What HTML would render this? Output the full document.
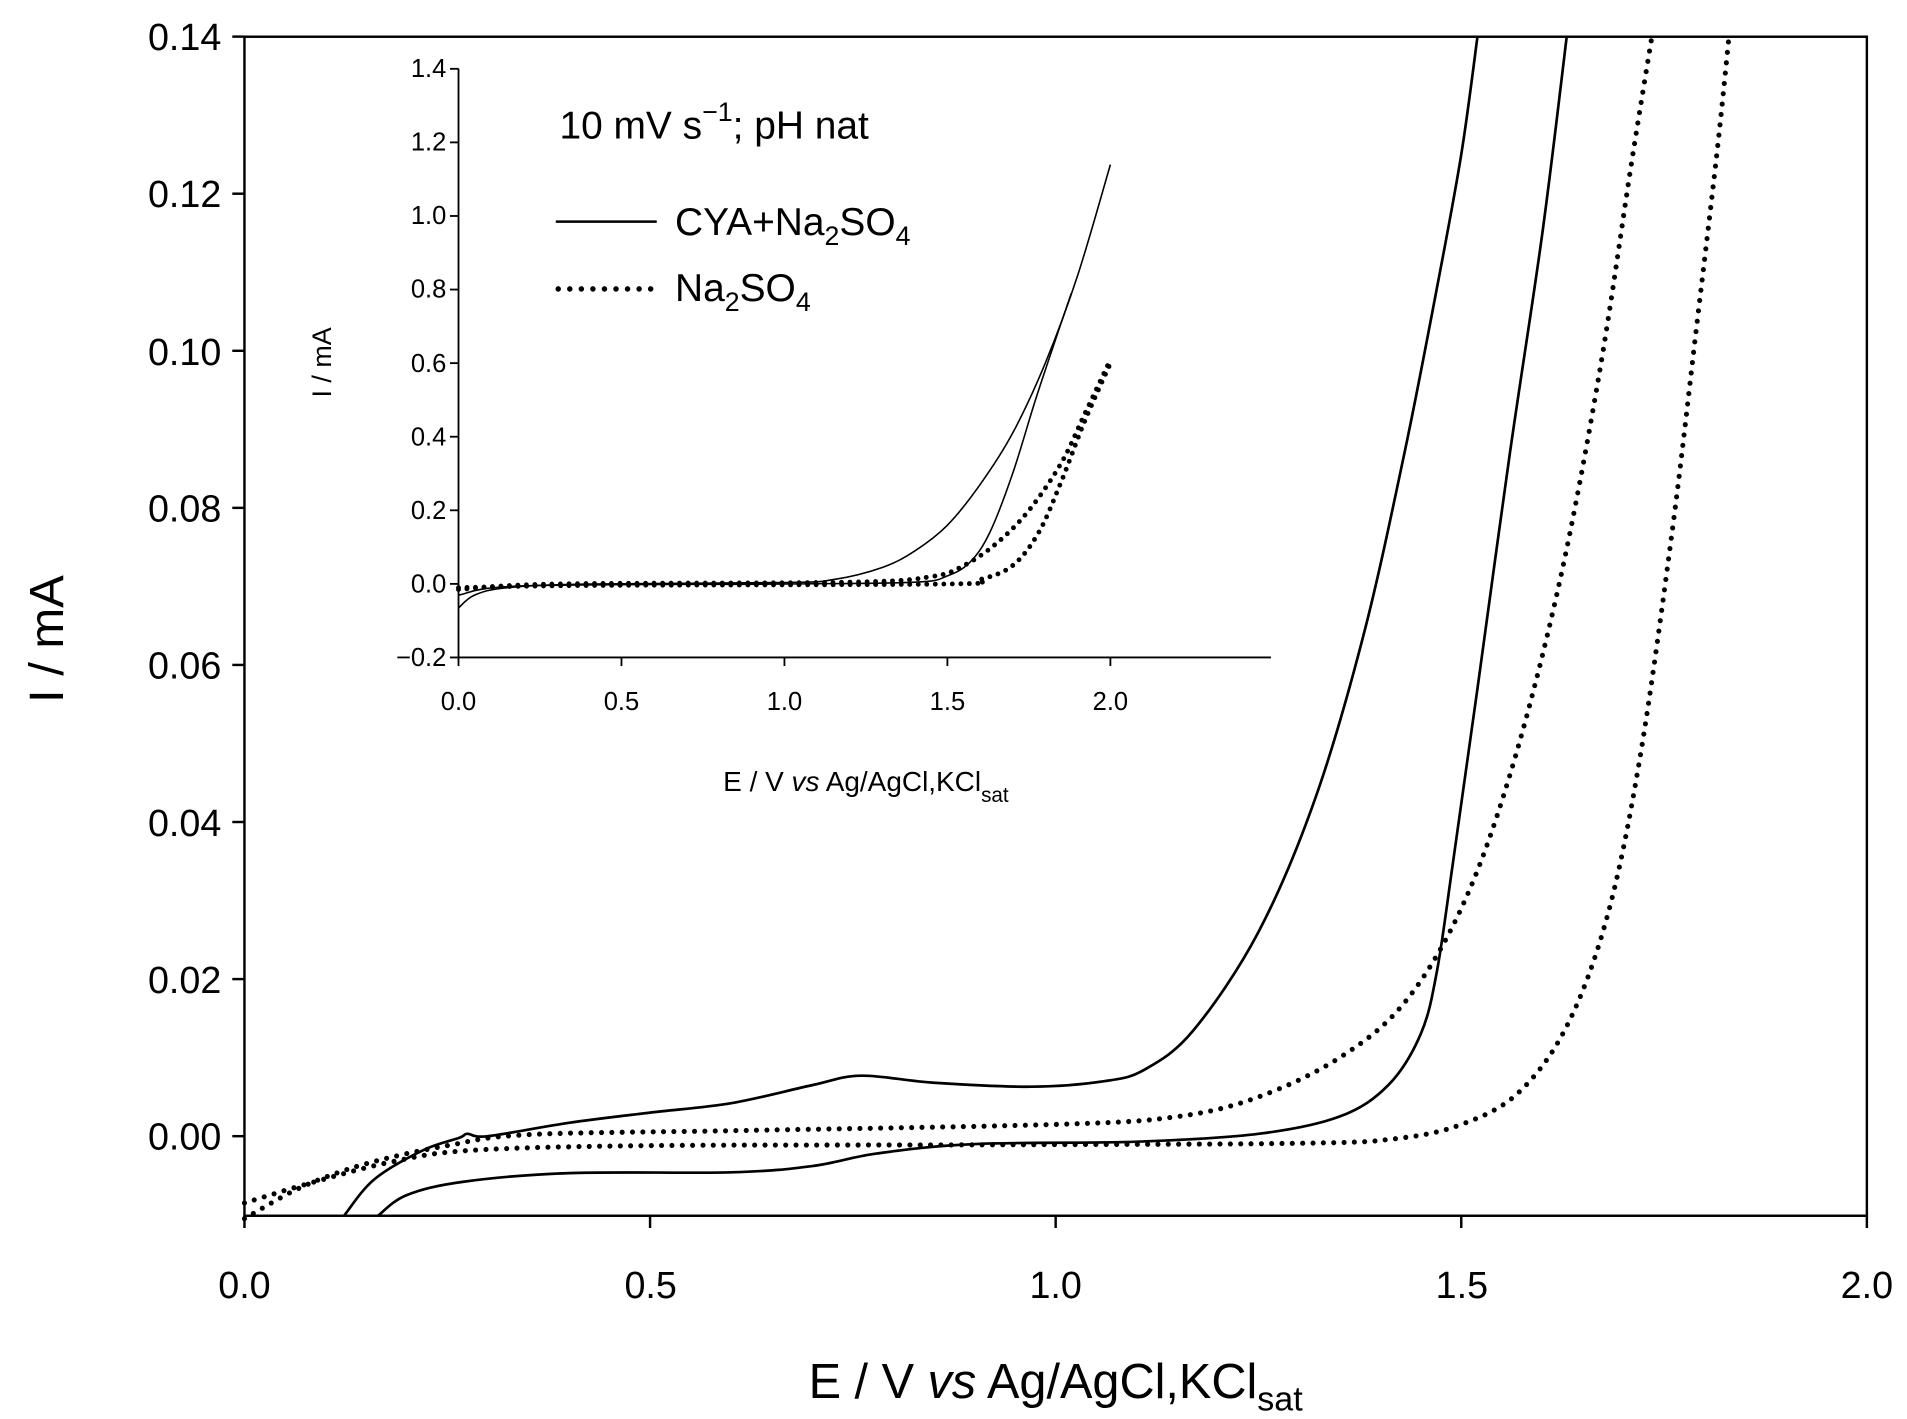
<!DOCTYPE html>
<html><head><meta charset="utf-8"><style>
html,body{margin:0;padding:0;background:#fff;}
svg{display:block;font-family:"Liberation Sans",Arial,sans-serif;}
</style></head><body>
<svg id="s" width="1907" height="1419" viewBox="0 0 1568 1159" preserveAspectRatio="none" xmlns="http://www.w3.org/2000/svg">
<rect width="1568" height="1159" fill="#fff"/>
<rect x="201" y="30" width="1334" height="963" fill="none" stroke="#000" stroke-width="2"/>
<g id="mainticks" stroke="#000" stroke-width="2"></g>
<g font-size="31" text-anchor="end" fill="#000">
<text x="182" y="41">0.14</text><text x="182" y="169">0.12</text><text x="182" y="298">0.10</text>
<text x="182" y="426">0.08</text><text x="182" y="554">0.06</text><text x="182" y="683">0.04</text>
<text x="182" y="811">0.02</text><text x="182" y="939">0.00</text>
</g>
<g font-size="31" text-anchor="middle" fill="#000">
<text x="201" y="1060">0.0</text><text x="535" y="1060">0.5</text><text x="868" y="1060">1.0</text>
<text x="1202" y="1060">1.5</text><text x="1535" y="1060">2.0</text>
</g>
<text x="52" y="522" font-size="40" text-anchor="middle" transform="rotate(-90 52 522)">I / mA</text>
<text x="868" y="1142" font-size="40" text-anchor="middle">E / V <tspan font-style="italic">vs</tspan> Ag/AgCl,KCl<tspan font-size="28" dy="10">sat</tspan></text>

<line x1="377" y1="56" x2="377" y2="537" stroke="#000" stroke-width="1.5"/>
<line x1="377" y1="537" x2="1045" y2="537" stroke="#000" stroke-width="1.5"/>
<g id="insetticks" stroke="#000" stroke-width="1.5"></g>
<g font-size="21" text-anchor="end" fill="#000">
<text x="367" y="63">1.4</text><text x="367" y="123">1.2</text><text x="367" y="183">1.0</text>
<text x="367" y="243">0.8</text><text x="367" y="304">0.6</text><text x="367" y="364">0.4</text>
<text x="367" y="424">0.2</text><text x="367" y="484">0.0</text><text x="367" y="544">−0.2</text>
</g>
<g font-size="21" text-anchor="middle" fill="#000">
<text x="377" y="580">0.0</text><text x="511" y="580">0.5</text><text x="645" y="580">1.0</text>
<text x="779" y="580">1.5</text><text x="913" y="580">2.0</text>
</g>
<text x="272" y="296" font-size="22" text-anchor="middle" transform="rotate(-90 272 296)">I / mA</text>
<text x="712" y="646" font-size="23" text-anchor="middle">E / V <tspan font-style="italic">vs</tspan> Ag/AgCl,KCl<tspan font-size="17" dy="9">sat</tspan></text>
<text x="460" y="113" font-size="32">10 mV s<tspan font-size="22" dy="-14">−1</tspan><tspan dy="14">; pH nat</tspan></text>
<line x1="457" y1="181" x2="540" y2="181" stroke="#000" stroke-width="2"/>
<text x="555" y="192" font-size="32">CYA+Na<tspan font-size="22" dy="8">2</tspan><tspan dy="-8">SO</tspan><tspan font-size="22" dy="8">4</tspan></text>
<line x1="459" y1="236" x2="540" y2="236" stroke="#000" stroke-width="4.5" stroke-linecap="round" stroke-dasharray="0 9.5"/>
<text x="555" y="246" font-size="32">Na<tspan font-size="22" dy="8">2</tspan><tspan dy="-8">SO</tspan><tspan font-size="22" dy="8">4</tspan></text>
<g id="curves"></g>
</svg>
<script>
var NS="http://www.w3.org/2000/svg";
function el(p,t,a){var e=document.createElementNS(NS,t);for(var k in a)e.setAttribute(k,a[k]);p.appendChild(e);return e;}
var mt=document.getElementById('mainticks');
for(var i=0;i<=7;i++){var y=928-i*128.3;el(mt,'line',{x1:191,y1:y,x2:201,y2:y});}
for(var i=0;i<=4;i++){var x=201+i*333.5;el(mt,'line',{x1:x,y1:993,x2:x,y2:1003});}
var it=document.getElementById('insetticks');
for(var i=0;i<=8;i++){var y=537-i*60.1;el(it,'line',{x1:370,y1:y,x2:377,y2:y});}
for(var i=0;i<=4;i++){var x=377+i*134;el(it,'line',{x1:x,y1:537,x2:x,y2:544});}
function path(pts){var d="M"+pts[0][0]+","+pts[0][1];
for(var i=0;i<pts.length-1;i++){var p0=pts[i-1]||pts[i],p1=pts[i],p2=pts[i+1],p3=pts[i+2]||p2;
d+=" C"+(p1[0]+(p2[0]-p0[0])/6)+","+(p1[1]+(p2[1]-p0[1])/6)+" "+(p2[0]-(p3[0]-p1[0])/6)+","+(p2[1]-(p3[1]-p1[1])/6)+" "+p2[0]+","+p2[1];}
return d;}
var M=function(a){return a.map(function(p){return [201+p[0]*667,928-p[1]*6415];});};
var I=function(a){return a.map(function(p){return [377+p[0]*268,477-p[1]*300.5];});};
var g=document.getElementById('curves');
var solid={fill:"none",stroke:"#000","stroke-width":2.2};
var dot={fill:"none",stroke:"#000","stroke-width":4.2,"stroke-linecap":"round","stroke-dasharray":"0 8.5"};
el(g,'path',Object.assign({d:path(M([[0.123,-0.0101],[0.16,-0.0055],[0.22,-0.0018],[0.265,-0.0002],[0.275,0.0003],[0.3,0.0000],[0.4,0.0017],[0.5,0.003],[0.6,0.0042],[0.7,0.0065],[0.76,0.0077],[0.85,0.0068],[0.97,0.0063],[1.06,0.007],[1.11,0.0085],[1.17,0.0135],[1.25,0.026],[1.32,0.043],[1.38,0.064],[1.43,0.087],[1.47,0.108],[1.5,0.125],[1.52,0.14]]))},solid));
el(g,'path',Object.assign({d:path(M([[0.165,-0.0101],[0.2,-0.0075],[0.27,-0.0058],[0.4,-0.0047],[0.6,-0.0046],[0.7,-0.0038],[0.78,-0.0022],[0.9,-0.001],[1.1,-0.0007],[1.25,0.0003],[1.35,0.0025],[1.41,0.0065],[1.45,0.013],[1.47,0.021],[1.49,0.035],[1.52,0.057],[1.56,0.087],[1.6,0.115],[1.63,0.14]]))},solid));
el(g,'path',Object.assign({d:path(M([[0.0,-0.0105],[0.07,-0.0065],[0.15,-0.0035],[0.25,-0.0012],[0.35,0.0002],[0.6,0.0007],[1.0,0.0015],[1.15,0.0025],[1.25,0.005],[1.35,0.01],[1.43,0.017],[1.5,0.029],[1.56,0.046],[1.62,0.07],[1.67,0.097],[1.71,0.124],[1.735,0.14]]))},dot));
el(g,'path',Object.assign({d:path(M([[0.0,-0.0085],[0.08,-0.006],[0.18,-0.0033],[0.28,-0.0018],[0.5,-0.0012],[0.9,-0.0011],[1.3,-0.0009],[1.42,-0.0003],[1.5,0.0015],[1.57,0.0055],[1.63,0.014],[1.68,0.028],[1.72,0.048],[1.76,0.077],[1.79,0.103],[1.815,0.125],[1.83,0.14]]))},dot));
var s2={fill:"none",stroke:"#000","stroke-width":1.3};
var d2={fill:"none",stroke:"#000","stroke-width":4,"stroke-linecap":"round","stroke-dasharray":"0 7"};
el(g,'path',Object.assign({d:path(I([[0.0,-0.065],[0.05,-0.03],[0.15,-0.01],[0.4,0.0],[1.0,0.004],[1.15,0.012],[1.3,0.045],[1.4,0.09],[1.5,0.16],[1.6,0.27],[1.7,0.41],[1.8,0.6],[1.9,0.84],[2.0,1.14]]))},s2));
el(g,'path',Object.assign({d:path(I([[0.0,-0.03],[0.2,-0.005],[1.0,0.0],[1.4,0.005],[1.5,0.022],[1.57,0.06],[1.63,0.14],[1.7,0.3],[1.77,0.5],[1.83,0.66],[1.88,0.79]]))},s2));
el(g,'path',Object.assign({d:path(I([[0.0,-0.015],[0.3,0.0],[1.2,0.005],[1.45,0.02],[1.55,0.05],[1.65,0.11],[1.75,0.2],[1.85,0.33],[1.92,0.46],[2.0,0.61]]))},d2));
el(g,'path',Object.assign({d:path(I([[0.0,-0.01],[0.4,-0.004],[1.5,0.0],[1.6,0.012],[1.7,0.05],[1.78,0.14],[1.85,0.28],[1.92,0.44],[2.0,0.6]]))},d2));
</script>
</body></html>
